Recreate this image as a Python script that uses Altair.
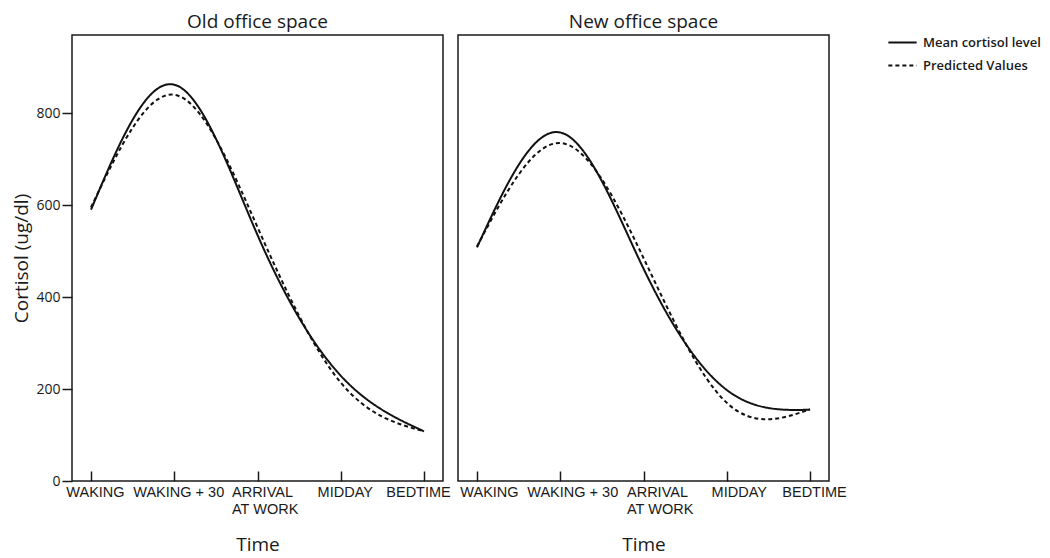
import altair as alt
import pandas as pd

# categories (x positions 0..4)
times = ["WAKING", "WAKING + 30", "ARRIVAL|AT WORK", "MIDDAY", "BEDTIME"]
tpos = [0, 1, 2, 3, 4]

# values
old_mean = [590, 862, 535, 229, 108]
old_pred = [595, 840, 552, 214, 108]
new_mean = [508, 758, 462, 198, 155]
new_pred = [510, 735, 485, 170, 156]

series_names = ["Mean cortisol level", "Predicted Values"]
panels = ["Old office space", "New office space"]

rows = []
for panel, mean, pred in [(panels[0], old_mean, old_pred),
                          (panels[1], new_mean, new_pred)]:
    for x, m, p in zip(tpos, mean, pred):
        rows.append({"panel": panel, "series": series_names[0], "t": x, "v": m})
        rows.append({"panel": panel, "series": series_names[1], "t": x, "v": p})
df = pd.DataFrame(rows)

label_expr = "[" + ",".join(
    "[" + ",".join("'" + part + "'" for part in lab.split("|")) + "]" for lab in times
) + "][datum.value]"

TITLE_FONT = "Open Sans"
LABEL_FONT = "Liberation Sans"
INK = "#1a1a1a"


def panel(name, show_y, base_off, end_off, two_line_off):
    label_offset = {
        "condition": [
            {"test": "datum.value == 4", "value": end_off},
            {"test": "datum.value == 2", "value": two_line_off},
        ],
        "value": base_off,
    }
    label_align = {
        "condition": {"test": "datum.value == 2", "value": "left"},
        "value": "center",
    }
    x = alt.X("t:Q",
              scale=alt.Scale(domain=[-0.228, 4.228], nice=False, zero=False),
              axis=alt.Axis(values=tpos, labelExpr=label_expr, title="Time",
                            domain=False, offset=-10, tickSize=10, tickColor=INK,
                            tickWidth=1.5, labelPadding=4, labelFont=LABEL_FONT,
                            labelFontSize=14.5, labelColor=INK, labelLineHeight=17,
                            labelBaseline="top", labelFlush=False, labelOverlap=False,
                            labelOffset=label_offset, labelAlign=label_align,
                            titleFont=TITLE_FONT, titleFontSize=19,
                            titleFontWeight="normal", titleColor=INK,
                            titlePadding=20, grid=False))
    if show_y:
        yax = alt.Axis(values=[0, 200, 400, 600, 800], title="Cortisol (ug/dl)",
                       tickSize=10, tickColor=INK, tickWidth=1.5, domain=False,
                       labelFont=TITLE_FONT, labelFontSize=14, labelColor=INK,
                       labelPadding=2, titleFont=TITLE_FONT, titleFontSize=19,
                       titleFontWeight="normal", titleColor=INK, titlePadding=4,
                       grid=False)
    else:
        yax = None
    y = alt.Y("v:Q", scale=alt.Scale(domain=[0, 970], nice=False), axis=yax)
    return (
        alt.Chart(df)
        .transform_filter(alt.datum.panel == name)
        .mark_line(interpolate="natural", strokeWidth=2, color="#111")
        .encode(
            x=x, y=y,
            strokeDash=alt.StrokeDash(
                "series:N",
                scale=alt.Scale(domain=series_names, range=[[1, 0], [4, 3]]),
                legend=alt.Legend(title=None, orient="none", legendX=815, legendY=-8,
                                  symbolType="stroke", symbolSize=800,
                                  symbolStrokeWidth=2, symbolStrokeColor="#111",
                                  labelFont=TITLE_FONT, labelFontSize=13,
                                  labelFontWeight=600, labelColor=INK,
                                  labelOffset=5, rowPadding=-3, padding=0)),
            detail="series:N",
        )
        .properties(width=371, height=446,
                    title=alt.TitleParams(name, font=TITLE_FONT, fontSize=19,
                                          fontWeight="normal", color=INK, offset=3))
    )


chart = (
    alt.hconcat(panel(panels[0], True, 4, -6, -26),
                panel(panels[1], False, 12, 4, -17),
                spacing=15, bounds="flush")
    .properties(padding={"left": 4, "top": 4, "right": 0, "bottom": 0})
    .configure_view(stroke=INK, strokeWidth=1.5, fill="white")
)

chart.save("out.html", embed_options={"renderer": "svg", "actions": False})
